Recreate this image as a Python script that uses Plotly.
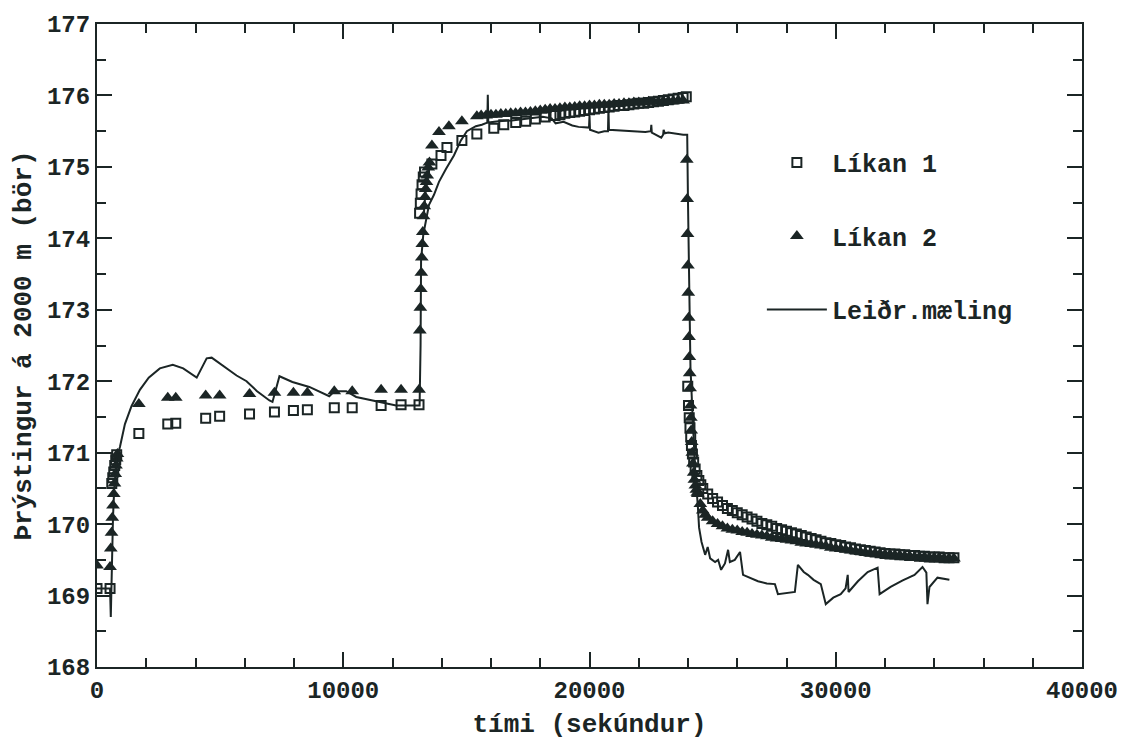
import plotly.graph_objects as go

# ---------------- data ----------------
# Measured pressure (Leiðr.mæling)
t_meas = [0, 530, 560, 600, 650, 700, 760, 820, 931, 1134, 1400, 1741, 2100, 2551, 3077, 3500,
          4049, 4150, 4453, 4656, 5100, 5668, 6073, 6500, 7004, 7126, 7409, 7935, 8623, 9433,
          9636, 10121, 10526, 10931, 11579, 12146, 13077, 13100, 13140, 13160, 13250, 13360,
          13482, 13684, 13887, 14170, 14494, 14777, 15020, 15385, 15628, 15850, 15870, 15890,
          16300, 16842, 17530, 18100, 18462, 18623, 18947, 19300, 19555, 19980, 20000, 20020,
          20364, 20600, 20750, 20770, 20790, 21200, 21700, 22267, 22490, 22510, 22530, 22915,
          22990, 23010, 23060, 23198, 23806, 23968, 24000, 24050, 24100, 24200, 24300, 24400,
          24450, 24550, 24696, 24800, 24900, 25100, 25223, 25344, 25500, 25628, 25700, 25900,
          26113, 26235, 26500, 26842, 27200, 27530, 27652, 28000, 28340, 28462, 28700, 28866,
          29100, 29393, 29595, 29900, 30202, 30400, 30486, 30520, 30900, 31296, 31700, 31781,
          32227, 32700, 33198, 33522, 33680, 33725, 33806, 34130, 34400, 34615]
p_meas = [169.10, 169.10, 168.70, 169.50, 170.10, 170.50, 170.80, 170.95, 171.08, 171.40, 171.65,
          171.88, 172.05, 172.18, 172.23, 172.18, 172.05, 172.12, 172.32, 172.33, 172.22, 172.08,
          172.00, 171.86, 171.73, 171.71, 172.07, 171.99, 171.92, 171.79, 171.86, 171.86, 171.78,
          171.75, 171.70, 171.66, 171.66, 171.66, 172.50, 173.69, 174.05, 174.28, 174.47, 174.61,
          174.79, 174.97, 175.16, 175.37, 175.50, 175.57, 175.59, 175.62, 176.01, 175.62, 175.64,
          175.65, 175.68, 175.70, 175.68, 175.61, 175.63, 175.58, 175.56, 175.55, 175.72, 175.52,
          175.48, 175.50, 175.50, 175.82, 175.52, 175.51, 175.50, 175.49, 175.50, 175.59, 175.48,
          175.41, 175.45, 175.52, 175.47, 175.48, 175.45, 175.45, 174.50, 173.20, 172.20, 171.40,
          170.70, 170.25, 169.95, 169.75, 169.57, 169.68, 169.52, 169.47, 169.50, 169.36, 169.45,
          169.64, 169.47, 169.50, 169.61, 169.29, 169.25, 169.20, 169.17, 169.16, 169.02, 169.03,
          169.05, 169.43, 169.33, 169.29, 169.22, 169.16, 168.88, 168.97, 169.02, 169.10, 169.29,
          169.05, 169.20, 169.33, 169.39, 169.02, 169.12, 169.21, 169.29, 169.40, 169.32, 168.88,
          169.12, 169.25, 169.23, 169.22]

# Model 1 (Líkan 1)
t_mod1 = [0, 530, 600, 640, 680, 720, 760, 800, 1700, 2874, 3198, 4413, 4980, 6194, 7206, 7976,
          8543, 9636, 10364, 11538, 12348, 13077,
          13100, 13130, 13160, 13200, 13250, 13300, 13600, 13970, 14211, 14818, 15425, 16113,
          16518, 17004, 17409, 17800, 18200, 18543,
          18600, 18800, 19000, 19200, 19400, 19600, 19800, 20000, 20200, 20400, 20600, 20800,
          21000, 21200, 21400, 21600, 21800, 22000, 22200, 22400, 22600, 22800, 23000, 23200,
          23400, 23600, 23800, 23930,
          23990, 24020, 24050, 24080, 24110, 24140, 24180, 24230, 24290, 24360, 24440, 24520,
          24600, 24800, 25000, 25200, 25400, 25600, 25800, 26000, 26200, 26400, 26600, 26800,
          27000, 27200, 27400, 27600, 27800, 28000, 28200, 28400, 28600, 28800, 29000, 29200,
          29400, 29600, 29800, 30000, 30200, 30400, 30600, 30800, 31000, 31200, 31400, 31600,
          31800, 32000, 32200, 32400, 32600, 32800, 33000, 33200, 33400, 33600, 33800, 34000,
          34200, 34400, 34600, 34800]
p_mod1 = [169.10, 169.10, 170.57, 170.65, 170.73, 170.82, 170.90, 170.97, 171.27, 171.40, 171.41,
          171.48, 171.51, 171.54, 171.57, 171.59, 171.60, 171.63, 171.63, 171.66, 171.67, 171.67,
          174.35, 174.49, 174.62, 174.75, 174.86, 174.93, 175.04, 175.16, 175.27, 175.37, 175.46,
          175.54, 175.59, 175.62, 175.64, 175.67, 175.70, 175.72,
          175.72, 175.73, 175.75, 175.76, 175.77, 175.78, 175.79, 175.80, 175.81, 175.82, 175.83,
          175.84, 175.85, 175.86, 175.86, 175.87, 175.88, 175.89, 175.89, 175.90, 175.91, 175.92,
          175.93, 175.94, 175.95, 175.96, 175.97, 175.98,
          171.93, 171.66, 171.49, 171.35, 171.22, 171.10, 170.98, 170.87, 170.77, 170.68, 170.61,
          170.55,
          170.50, 170.42, 170.36, 170.31, 170.26, 170.22, 170.19, 170.16, 170.13, 170.10, 170.07,
          170.04, 170.01, 169.99, 169.97, 169.94, 169.92, 169.90, 169.88, 169.86, 169.84, 169.82,
          169.80, 169.78, 169.76, 169.74, 169.73, 169.71, 169.70, 169.68, 169.67, 169.65, 169.64,
          169.63, 169.62, 169.61, 169.60, 169.59, 169.58, 169.58, 169.57, 169.57, 169.56, 169.56,
          169.55, 169.55, 169.54, 169.54, 169.54, 169.53, 169.53, 169.53]

# Model 2 (Líkan 2)
t_mod2 = [0, 530, 560, 590, 620, 650, 680, 710, 740, 770, 800, 830, 1700, 2874, 3198, 4413, 4980,
          6194, 7206, 7976, 8543, 9636, 10364, 11538, 12348, 13077,
          13110, 13130, 13150, 13170, 13190, 13210, 13230, 13260, 13290, 13320, 13350, 13380,
          13410, 13450, 13500, 13600, 13887, 14291, 14818, 15425,
          15600, 15800, 16000, 16200, 16400, 16600, 16800, 17000, 17200, 17400, 17600, 17800,
          18000, 18200, 18400, 18600, 18800, 19000, 19200, 19400, 19600, 19800, 20000, 20200,
          20400, 20600, 20800, 21000, 21200, 21400, 21600, 21800, 22000, 22200, 22400, 22600,
          22800, 23000, 23200, 23400, 23600, 23800,
          23950, 23965, 23980, 23995, 24010, 24025, 24040, 24055, 24070, 24085, 24100, 24115,
          24130, 24150, 24175, 24200, 24230, 24260, 24300, 24340, 24380,
          24400, 24500, 24600, 24700, 24800, 25000, 25200, 25400, 25600, 25800, 26000, 26200,
          26400, 26600, 26800, 27000, 27200, 27400, 27600, 27800, 28000, 28200, 28400, 28600,
          28800, 29000, 29200, 29400, 29600, 29800, 30000, 30200, 30400, 30600, 30800, 31000,
          31200, 31400, 31600, 31800, 32000, 32200, 32400, 32600, 32800, 33000, 33200, 33400,
          33600, 33800, 34000, 34200, 34400, 34600, 34800]
p_mod2 = [169.42, 169.40, 169.66, 169.88, 170.09, 170.26, 170.42, 170.57, 170.70, 170.82, 170.92,
          170.98, 171.68, 171.77, 171.77, 171.80, 171.80, 171.82, 171.84, 171.84, 171.84, 171.86,
          171.86, 171.88, 171.88, 171.88,
          172.71, 173.03, 173.29, 173.52, 173.73, 173.92, 174.09, 174.31, 174.45, 174.58, 174.69,
          174.79, 174.88, 174.99, 175.06, 175.30, 175.49, 175.57, 175.64, 175.71,
          175.72, 175.72, 175.73, 175.73, 175.74, 175.74, 175.75, 175.75, 175.76, 175.76, 175.77,
          175.78, 175.79, 175.80, 175.81, 175.81, 175.82, 175.83, 175.83, 175.84, 175.85, 175.85,
          175.86, 175.86, 175.87, 175.87, 175.87, 175.88, 175.88, 175.89, 175.89, 175.90, 175.90,
          175.90, 175.91, 175.91, 175.91, 175.92, 175.92, 175.92, 175.93, 175.93,
          175.10, 174.55, 174.06, 173.62, 173.24, 172.89, 172.62, 172.34, 172.11, 171.90, 171.66,
          171.49, 171.31, 171.15, 171.00, 170.85, 170.72, 170.62, 170.54, 170.48, 170.44,
          170.42, 170.28, 170.19, 170.13, 170.09, 170.04, 170.00, 169.97, 169.94, 169.92, 169.91,
          169.89, 169.88, 169.86, 169.85, 169.84, 169.83, 169.81, 169.80, 169.79, 169.78, 169.77,
          169.76, 169.74, 169.73, 169.72, 169.71, 169.70, 169.69, 169.67, 169.66, 169.65, 169.64,
          169.63, 169.62, 169.61, 169.60, 169.59, 169.59, 169.58, 169.57, 169.57, 169.56, 169.56,
          169.55, 169.55, 169.54, 169.54, 169.54, 169.53, 169.53, 169.53, 169.52, 169.52, 169.52]

INK = "#1b2525"
FONT = "Liberation Mono"

fig = go.Figure()
fig.add_trace(go.Scatter(
    x=t_mod1, y=p_mod1, mode="markers", name="Líkan 1", legendgroup="a",
    marker=dict(symbol="square-open", size=9, color=INK, line=dict(width=2, color=INK)),
))
fig.add_trace(go.Scatter(
    x=t_mod2, y=p_mod2, mode="markers", name="Líkan 2", legendgroup="b",
    marker=dict(symbol="triangle-up", size=12, color=INK, line=dict(width=0)),
))
fig.add_trace(go.Scatter(
    x=t_meas, y=p_meas, mode="lines", name="Leiðr.mæling", legendgroup="c",
    line=dict(color=INK, width=2),
))

axis_common = dict(
    showline=True, linecolor=INK, linewidth=2, mirror="ticks",
    ticks="inside", tickcolor=INK, tickwidth=2, ticklen=15,
    showgrid=False, zeroline=False,
    tickfont=dict(family=FONT, size=24, color=INK, weight="bold"),
)

fig.update_xaxes(
    range=[0, 40000], tick0=0, dtick=10000, tickformat="d",
    minor=dict(dtick=2000, ticks="inside", ticklen=9, tickcolor=INK, tickwidth=2, showgrid=False),
    title=dict(text="tími (sekúndur)", font=dict(family=FONT, size=26, color=INK, weight="bold"),
               standoff=10),
    **axis_common,
)
fig.update_yaxes(
    range=[168, 177], tick0=168, dtick=1, tickformat="d",
    minor=dict(dtick=0.5, ticks="inside", ticklen=9, tickcolor=INK, tickwidth=2, showgrid=False),
    title=dict(text="Þrýstingur á 2000 m (bör)", font=dict(family=FONT, size=26, color=INK, weight="bold"),
               standoff=8),
    **axis_common,
)

fig.update_layout(
    width=1130, height=745,
    margin=dict(l=97, r=45, t=19, b=71),
    paper_bgcolor="white", plot_bgcolor="white",
    showlegend=True,
    legend=dict(
        x=0.675, y=0.82, xanchor="left", yanchor="top",
        font=dict(family=FONT, size=25, color=INK, weight="bold"),
        bgcolor="rgba(0,0,0,0)", tracegroupgap=38, itemwidth=60,
        traceorder="grouped",
    ),
)

fig.write_html("out.html")
